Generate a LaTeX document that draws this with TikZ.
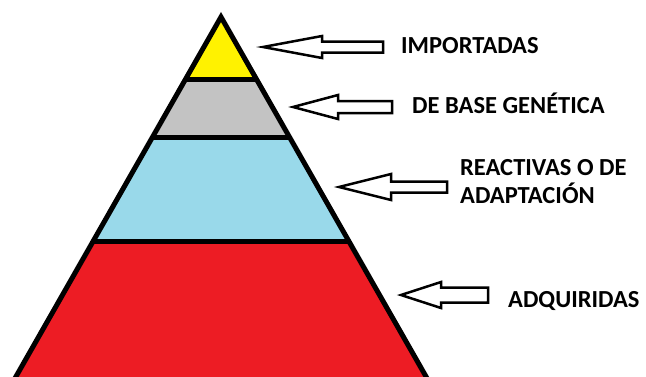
\documentclass[tikz,border=0pt]{standalone}
\usepackage{fontspec}
\setmainfont{Carlito}
\usetikzlibrary{positioning}
\definecolor{paintyellow}{HTML}{FFF200}
\definecolor{paintgray}{HTML}{C3C3C3}
\definecolor{paintblue}{HTML}{99D9EA}
\definecolor{paintred}{HTML}{ED1C24}
\tikzset{
  level/.style={font=\bfseries\fontsize{24.5}{28}\selectfont, inner sep=0pt, anchor=base west, align=left},
  hollow/.style={draw=black, line width=2.5pt, fill=white, line join=miter},
}

\begin{document}
\begin{tikzpicture}[x=1pt,y=-1pt]
\useasboundingbox (0,0) rectangle (646,376);
\coordinate (apex) at (221,17);
\coordinate (bl) at (14,380);
\coordinate (br) at (428,380);
% bands of the pyramid
\begin{scope}
\clip (apex) -- (bl) -- (br) -- cycle;
\fill[paintyellow] (0,0) rectangle (646,79);
\fill[paintgray] (0,79) rectangle (646,137);
\fill[paintblue] (0,137) rectangle (646,241);
\fill[paintred] (0,241) rectangle (646,380);
\foreach \y in {79,137,241}
  \draw[line width=5pt] (0,\y) -- (646,\y);
\end{scope}
\draw[line width=5pt, line join=miter] (apex) -- (bl) -- (br) -- cycle;

% labels
\node[level] (imp) at (401,53) {IMPORTADAS};
\node[level] (gen) at (412,113) {DE BASE GENÉTICA};
\node[level] (rea) at (460,203) {REACTIVAS O DE\\ADAPTACIÓN};
\node[level] (adq) at (508,307) {ADQUIRIDAS};

% arrows
\foreach \tx/\ty/\hx/\hh/\sh/\ex in {263/47/322/11/5.5/383, 293/107/338/12/6/392,
    339/187/391/13/5.5/447, 401/295/441/13/7.5/488}
  \draw[hollow] (\tx,\ty) -- (\hx,\ty-\hh) -- (\hx,\ty-\sh) -- (\ex,\ty-\sh)
    -- (\ex,\ty+\sh) -- (\hx,\ty+\sh) -- (\hx,\ty+\hh) -- cycle;
\end{tikzpicture}
\end{document}
